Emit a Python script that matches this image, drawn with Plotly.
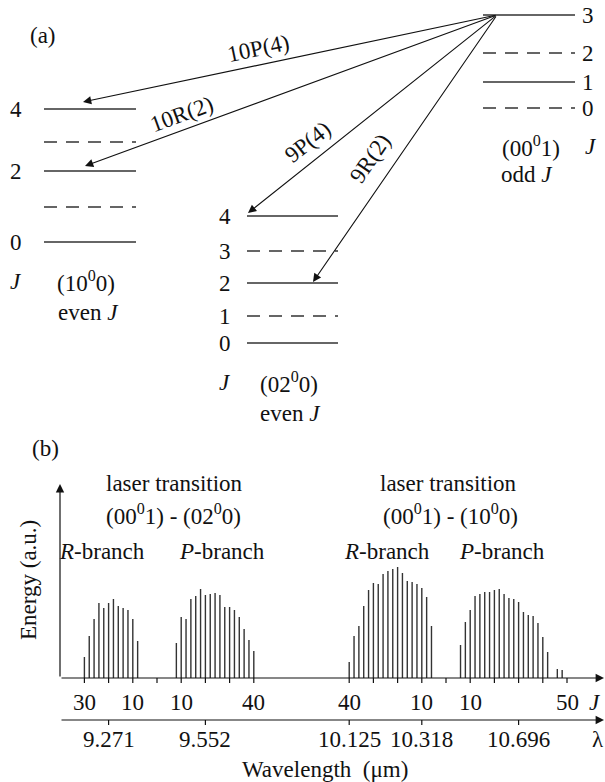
import math
import plotly.graph_objects as go

W, H = 605, 782
FONT = "Liberation Serif, DejaVu Serif, serif"
INK = "#111111"
GREY = "#333333"
FS = 23

# ---------------- (a) rotational levels ----------------
upper_J = [3, 2, 1, 0]            # (00^0 1), odd J populated
upper_row = [15, 53, 82, 108]
left_J = [4, 3, 2, 1, 0]          # (10^0 0), even J populated
left_row = [109, 142, 171, 207, 242]
mid_J = [4, 3, 2, 1, 0]           # (02^0 0), even J populated
mid_row = [216, 251, 283, 316, 343]

trans_names = ["10P(4)", "10R(2)", "9P(4)", "9R(2)"]
trans_band = ["left", "left", "mid", "mid"]
trans_J = [4, 2, 4, 2]

# ---------------- (b) emission spectrum ----------------
r9_J = list(range(30, 7, -2))
r9_E = [21, 42, 59, 75, 70, 75, 79, 72, 70, 68, 59, 37]
p9_J = list(range(8, 41, 2))
p9_E = [35, 61, 59, 79, 82, 89, 83, 84, 85, 83, 71, 71, 68, 61, 49, 38, 27]
r10_J = list(range(40, 5, -2))
r10_E = [16, 42, 52, 72, 88, 95, 94, 104, 107, 109, 111, 105, 97, 96, 94, 90, 81, 52]
p10_J = list(range(6, 43, 2)) + [46, 48]
p10_E = [33, 56, 68, 82, 84, 86, 86, 88, 89, 84, 80, 79, 76, 66, 63, 62, 55, 41, 26, 9, 8]

j_ticks = {"9R": [30, 20, 10, 0], "9P": [10, 20, 30, 40],
           "10R": [40, 30, 20, 10, 0], "10P": [10, 20, 30, 40, 50]}
j_labels = [("9R", 30), ("9R", 10), ("9P", 10), ("9P", 40),
            ("10R", 40), ("10R", 10), ("10P", 10), ("10P", 50)]
wl_ticks = [("9R", 20, "9.271"), ("9P", 20, "9.552"), ("10R", 40, "10.125"),
            ("10R", 10, "10.318"), ("10P", 30, "10.696")]

# drawing geometry
BASE = 678            # J axis row
WL_ROW = 720          # wavelength axis row
AX_X0, AX_X1 = 60, 604
BAND_ORIGIN = {"9": 157, "10": 446}
J_STEP = 2.42


def branch_x(branch, J):
    band = branch[:-1]
    sign = -1 if branch.endswith("R") else 1
    return BAND_ORIGIN[band] + sign * J_STEP * J


fig = go.Figure()
ann = []


def text(x, y, s, size=FS, angle=0, xanchor="center", yanchor="middle"):
    ann.append(dict(x=x, y=y, xref="x", yref="y", text=s, showarrow=False,
                    font=dict(family=FONT, size=size, color=INK),
                    textangle=angle, xanchor=xanchor, yanchor=yanchor))


def arrow(x_tip, y_tip, x_tail, y_tail, width=1.1, size=1.5):
    ann.append(dict(x=x_tip, y=y_tip, ax=x_tail, ay=y_tail, xref="x", yref="y",
                    axref="x", ayref="y", text="", showarrow=True, arrowhead=2,
                    arrowsize=size, arrowwidth=width, arrowcolor=INK, standoff=0,
                    startstandoff=0, font=dict(family=FONT, size=FS)))


bands = {
    "upper": dict(J=upper_J, row=upper_row, x0=483, x1=575, solid_odd=True,
                  lab_x=588, labelled=upper_J),
    "left": dict(J=left_J, row=left_row, x0=44, x1=136, solid_odd=False,
                 lab_x=16, labelled=[4, 2, 0]),
    "mid": dict(J=mid_J, row=mid_row, x0=247, x1=338, solid_odd=False,
                lab_x=225, labelled=mid_J),
}

for name, b in bands.items():
    for J, r in zip(b["J"], b["row"]):
        solid = (J % 2 == 1) == b["solid_odd"]
        fig.add_trace(go.Scatter(
            x=[b["x0"], b["x1"]], y=[r, r], mode="lines", hoverinfo="skip",
            line=dict(color=GREY, width=1.3, dash="solid" if solid else "13px,9px")))
        if J in b["labelled"]:
            text(b["lab_x"], r, str(J))

# transitions from upper J=3
x_start = 497
y_start = upper_row[upper_J.index(3)]
tip_x = [83, 85, 248, 313]
tip_gap = [7, 5, 3, 1]
label_xy = [(258, 48), (181, 114), (307, 142), (370, 158)]
for name, band, J, tx, gap, (lx, ly) in zip(trans_names, trans_band, trans_J,
                                           tip_x, tip_gap, label_xy):
    b = bands[band]
    ty = b["row"][b["J"].index(J)] - gap
    arrow(tx, ty, x_start, y_start)
    ang = math.degrees(math.atan2(ty - y_start, x_start - tx))
    text(lx, ly, name, angle=-ang)

text(43, 35, "(a)")
text(531, 146, "(00<sup>0</sup>1)")
text(591, 146, "<i>J</i>")
text(527, 174, "odd <i>J</i>")
text(16, 281, "<i>J</i>")
text(86, 281, "(10<sup>0</sup>0)")
text(88, 312, "even <i>J</i>")
text(225, 382, "<i>J</i>")
text(289, 382, "(02<sup>0</sup>0)")
text(290, 413, "even <i>J</i>")

# ---------------- (b) ----------------
text(45, 448, "(b)")
text(174, 483, "laser transition")
text(173, 514, "(00<sup>0</sup>1) - (02<sup>0</sup>0)")
text(102, 551, "<i>R</i>-branch")
text(222, 551, "<i>P</i>-branch")
text(448, 483, "laser transition")
text(450, 514, "(00<sup>0</sup>1) - (10<sup>0</sup>0)")
text(387, 551, "<i>R</i>-branch")
text(502, 551, "<i>P</i>-branch")
text(28, 580, "Energy (a.u.)", angle=-90)

# spectral lines
for branch, Js, Es in [("9R", r9_J, r9_E), ("9P", p9_J, p9_E),
                       ("10R", r10_J, r10_E), ("10P", p10_J, p10_E)]:
    xs, ys = [], []
    for J, e in zip(Js, Es):
        x = branch_x(branch, J)
        xs += [x, x, None]
        ys += [0, e, None]
    fig.add_trace(go.Scatter(x=xs, y=ys, yaxis="y2", mode="lines",
                             hoverinfo="skip", line=dict(color=GREY, width=1.4)))

# axes
arrow(AX_X0, 484, AX_X0, BASE, width=1.2, size=1.4)
arrow(AX_X1, BASE, AX_X0, BASE, width=1.2, size=1.4)
arrow(AX_X1, WL_ROW, AX_X0, WL_ROW, width=1.2, size=1.4)

tx_all, ty_all = [], []
for branch, Js in j_ticks.items():
    for J in Js:
        x = branch_x(branch, J)
        tx_all += [x, x, None]
        ty_all += [BASE, BASE + 5, None]
for branch, J, _ in wl_ticks:
    x = branch_x(branch, J)
    tx_all += [x, x, None]
    ty_all += [WL_ROW, WL_ROW + 5, None]
fig.add_trace(go.Scatter(x=tx_all, y=ty_all, mode="lines", hoverinfo="skip",
                         line=dict(color=INK, width=1.2)))

for branch, J in j_labels:
    text(branch_x(branch, J), 702, str(J))
text(595, 702, "<i>J</i>")
for branch, J, s in wl_ticks:
    text(branch_x(branch, J), 739, s)
text(598, 739, "λ")
text(325, 769, "Wavelength  (μm)")

fig.update_layout(
    width=W, height=H, margin=dict(l=0, r=0, t=0, b=0),
    paper_bgcolor="white", plot_bgcolor="rgba(0,0,0,0)", showlegend=False,
    font=dict(family=FONT),
    xaxis=dict(range=[0, W], visible=False, fixedrange=True),
    yaxis=dict(range=[H, 0], visible=False, fixedrange=True),
    yaxis2=dict(range=[BASE - H, BASE], overlaying="y", anchor="x",
                visible=False, fixedrange=True),
    annotations=ann,
)

fig.write_html("out.html")
